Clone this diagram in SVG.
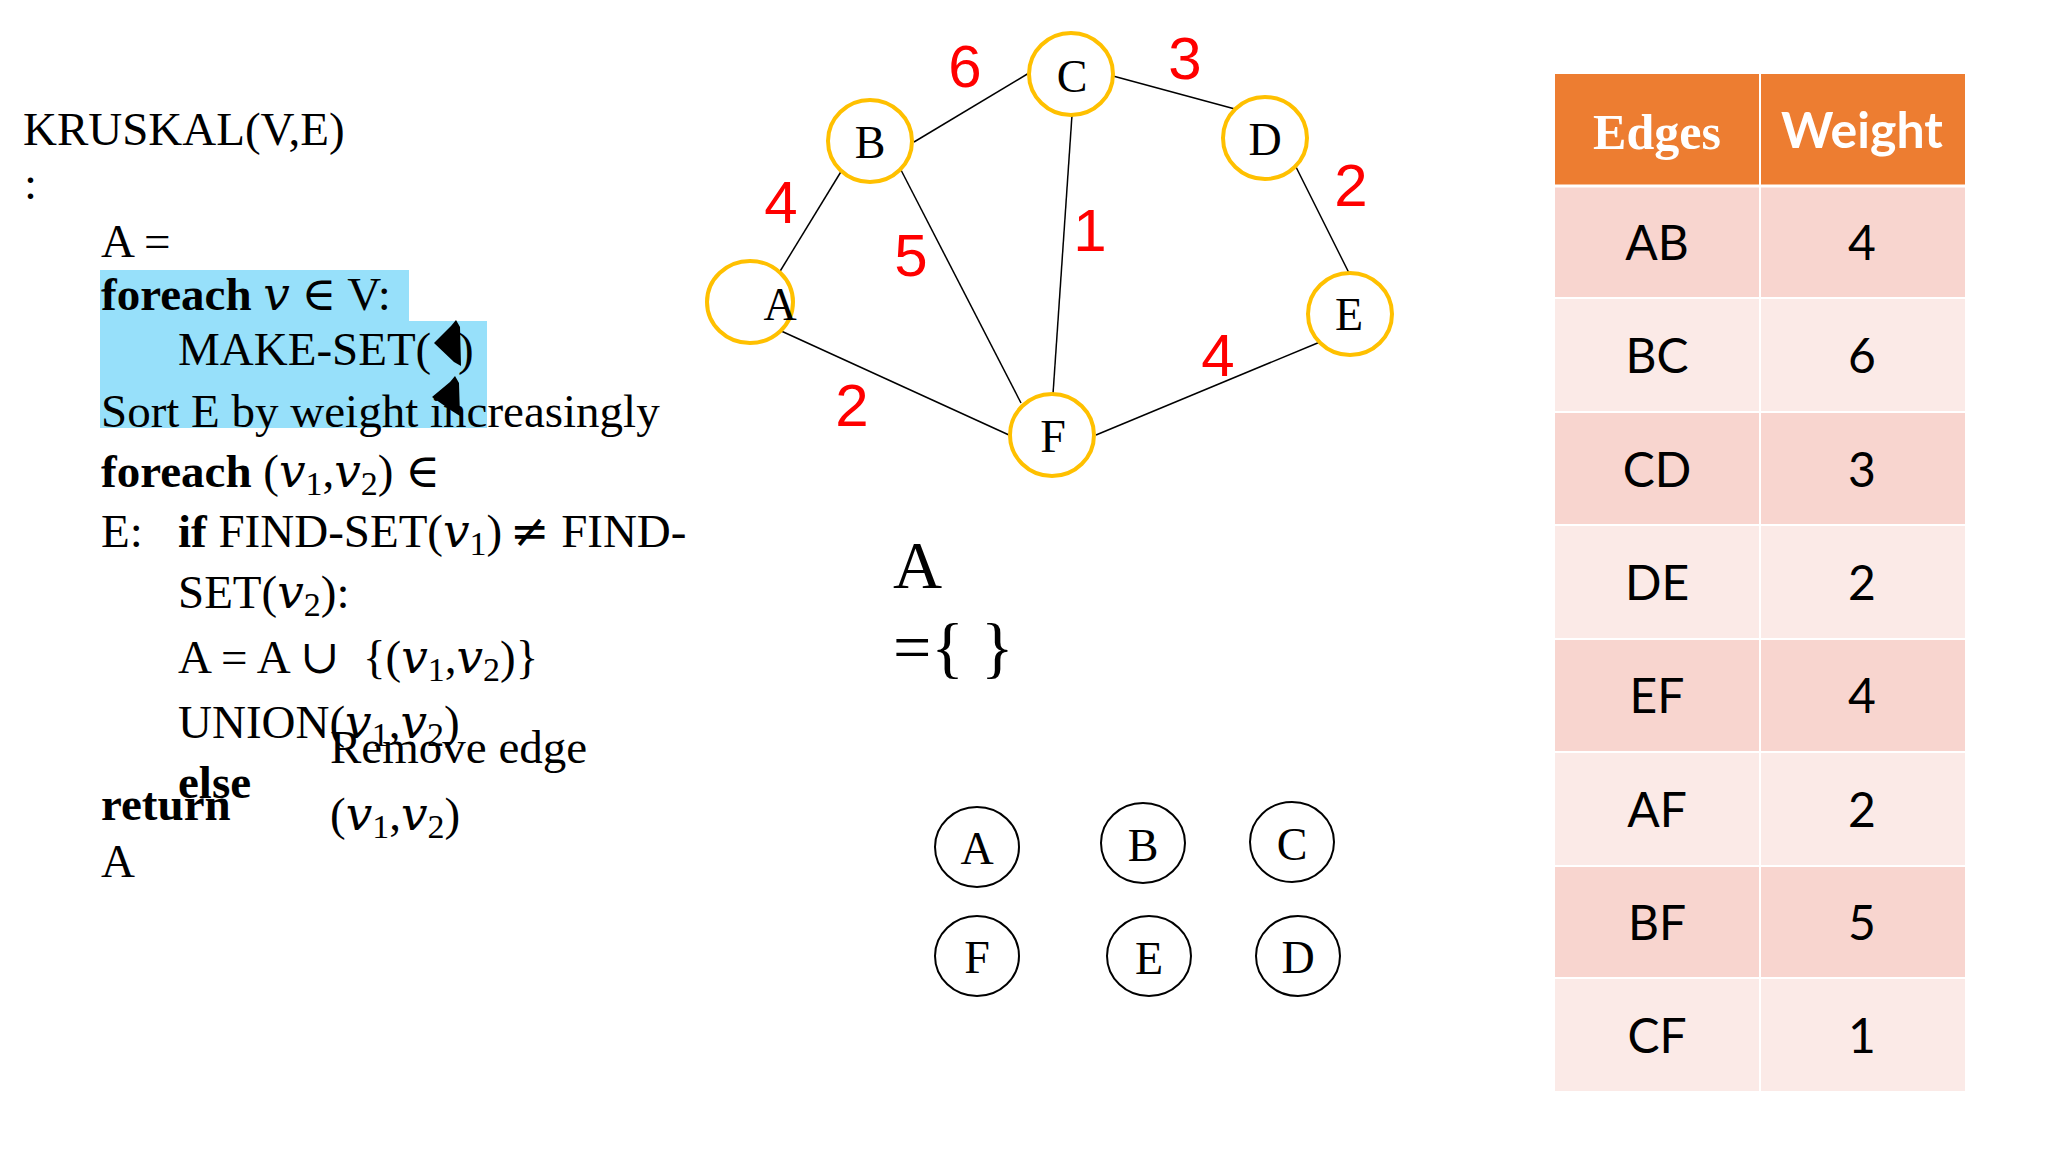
<svg xmlns="http://www.w3.org/2000/svg" width="2048" height="1152" viewBox="0 0 2048 1152">
<style>
.code{font-family:"Liberation Serif","Times New Roman",serif;font-size:47px;fill:#000}
.b{font-weight:bold}
.m{font-family:"DejaVu Serif","Liberation Serif",serif}
.sub{font-size:34px}
.gnode{fill:#fff;stroke:#FFC000;stroke-width:4}
.gtxt{font-family:"Liberation Serif","Times New Roman",serif;font-size:46px;fill:#000;text-anchor:middle}
.w{font-family:"Liberation Sans",Arial,sans-serif;font-size:60px;fill:#FF0000;text-anchor:middle}
.edge{stroke:#000;stroke-width:1.5;fill:none}
.snode{fill:#fff;stroke:#000;stroke-width:2}
.hdr{fill:#ED7D31}
.dark{fill:#F8D5CF}
.light{fill:#FBEAE7}
.cell{font-family:Lato,"Liberation Sans",sans-serif;font-size:48px;fill:#000;text-anchor:middle}
.htxt{font-size:50px;fill:#fff;text-anchor:middle;font-weight:bold}
</style>
<rect width="2048" height="1152" fill="#fff"/>

<!-- pseudo-code -->
<g id="code">
<path d="M100,270 H409 V321 H487 V428 H100 Z" fill="#97E0FA"/>
<text class="code" x="23" y="145">KRUSKAL(V,E)</text>
<text class="code" x="24" y="199">:</text>
<text class="code" x="101" y="257">A =</text>
<text class="code" x="101" y="310"><tspan class="b">foreach</tspan> <tspan class="m">𝑣</tspan> <tspan class="m">∈</tspan> V:</text>
<text class="code" x="178" y="365">MAKE-SET(<tspan x="458">)</tspan></text>
<path d="M434,343 L451,326 L456,320 L460,327 L461,366 L454,362 Z" fill="#000"/>
<path d="M432,397 L450,382 L455,376 L459,383 L460,416 L452,411 Z" fill="#000"/>
<text class="code" x="101" y="427">Sort E by weight increasingly</text>
<text class="code" x="101" y="487"><tspan class="b">foreach</tspan> (<tspan class="m">𝑣</tspan><tspan class="sub" dy="8">1</tspan><tspan dy="-8">,</tspan><tspan class="m">𝑣</tspan><tspan class="sub" dy="8">2</tspan><tspan dy="-8">)</tspan> <tspan class="m">∈</tspan></text>
<text class="code" x="101" y="547">E:<tspan class="b" x="178">if</tspan> FIND-SET(<tspan class="m">𝑣</tspan><tspan class="sub" dy="8">1</tspan><tspan dy="-8">)</tspan><tspan x="510" class="m">≠</tspan> FIND-</text>
<text class="code" x="178" y="608">SET(<tspan class="m">𝑣</tspan><tspan class="sub" dy="8">2</tspan><tspan dy="-8">):</tspan></text>
<text class="code" x="178" y="673">A = A <tspan class="m">∪</tspan><tspan x="363">{(</tspan><tspan class="m">𝑣</tspan><tspan class="sub" dy="8">1</tspan><tspan dy="-8">,</tspan><tspan class="m">𝑣</tspan><tspan class="sub" dy="8">2</tspan><tspan dy="-8">)}</tspan></text>
<text class="code" x="178" y="738">UNION(<tspan class="m">𝑣</tspan><tspan class="sub" dy="8">1</tspan><tspan dy="-8">,</tspan><tspan class="m">𝑣</tspan><tspan class="sub" dy="8">2</tspan><tspan dy="-8">)</tspan></text>
<text class="code" x="330" y="763">Remove edge</text>
<text class="code b" x="178" y="798">else</text>
<text class="code b" x="101" y="820">return</text>
<text class="code" x="330" y="830">(<tspan class="m">𝑣</tspan><tspan class="sub" dy="8">1</tspan><tspan dy="-8">,</tspan><tspan class="m">𝑣</tspan><tspan class="sub" dy="8">2</tspan><tspan dy="-8">)</tspan></text>
<text class="code" x="101" y="877">A</text>
</g>

<!-- connectors -->
<g id="connectors">
<line class="edge" x1="914" y1="142" x2="1029" y2="73"/>
<line class="edge" x1="1113" y1="76" x2="1235" y2="109"/>
<line class="edge" x1="779" y1="273" x2="842" y2="170"/>
<line class="edge" x1="901" y1="170" x2="1021" y2="403"/>
<line class="edge" x1="1072" y1="115" x2="1053" y2="394"/>
<line class="edge" x1="1296" y1="167" x2="1349" y2="273"/>
<line class="edge" x1="779" y1="330" x2="1009" y2="435"/>
<line class="edge" x1="1096" y1="435" x2="1320" y2="342"/>
</g>

<!-- graph nodes -->
<g id="node-C"><ellipse class="gnode" cx="1071" cy="74" rx="42" ry="41"/><text class="gtxt" x="1072" y="92">C</text></g>
<g id="node-B"><ellipse class="gnode" cx="870" cy="141" rx="42" ry="41"/><text class="gtxt" x="870" y="158">B</text></g>
<g id="node-D"><ellipse class="gnode" cx="1265" cy="138" rx="42" ry="41"/><text class="gtxt" x="1265" y="155">D</text></g>
<g id="node-A"><ellipse class="gnode" cx="750" cy="302" rx="43" ry="41"/><text class="gtxt" x="780" y="320">A</text></g>
<g id="node-E"><ellipse class="gnode" cx="1350" cy="314" rx="42" ry="41"/><text class="gtxt" x="1349" y="330">E</text></g>
<g id="node-F"><ellipse class="gnode" cx="1052" cy="435" rx="42" ry="41"/><text class="gtxt" x="1053" y="452">F</text></g>

<!-- weights -->
<g id="weights">
<text class="w" x="965" y="87">6</text>
<text class="w" x="1185" y="79">3</text>
<text class="w" x="781" y="223">4</text>
<text class="w" x="911" y="276">5</text>
<text class="w" x="1090" y="251">1</text>
<text class="w" x="1351" y="206">2</text>
<text class="w" x="852" y="426">2</text>
<text class="w" x="1218" y="376">4</text>
</g>

<!-- A = { } -->
<g id="result">
<text class="code" x="893" y="588" style="font-size:68px">A</text>
<text class="code" x="893" y="670" style="font-size:68px">={ }</text>
</g>

<!-- disjoint sets -->
<g id="set-A"><ellipse class="snode" cx="977" cy="847" rx="42" ry="40"/><text class="gtxt" x="977" y="864">A</text></g>
<g id="set-B"><ellipse class="snode" cx="1143" cy="843" rx="42" ry="40"/><text class="gtxt" x="1143" y="861">B</text></g>
<g id="set-C"><ellipse class="snode" cx="1292" cy="842" rx="42" ry="40"/><text class="gtxt" x="1292" y="860">C</text></g>
<g id="set-F"><ellipse class="snode" cx="977" cy="956" rx="42" ry="40"/><text class="gtxt" x="977" y="973">F</text></g>
<g id="set-E"><ellipse class="snode" cx="1149" cy="956" rx="42" ry="40"/><text class="gtxt" x="1149" y="974">E</text></g>
<g id="set-D"><ellipse class="snode" cx="1298" cy="956" rx="42" ry="40"/><text class="gtxt" x="1298" y="973">D</text></g>

<!-- table -->
<g id="table">
<rect class="hdr" x="1555" y="74" width="410" height="111"/>
<rect class="dark" x="1555" y="185" width="410" height="113"/>
<rect class="light" x="1555" y="298" width="410" height="114"/>
<rect class="dark" x="1555" y="412" width="410" height="113"/>
<rect class="light" x="1555" y="525" width="410" height="114"/>
<rect class="dark" x="1555" y="639" width="410" height="113"/>
<rect class="light" x="1555" y="752" width="410" height="114"/>
<rect class="dark" x="1555" y="866" width="410" height="112"/>
<rect class="light" x="1555" y="978" width="410" height="113"/>
<g stroke="#fff" stroke-width="2">
<line x1="1760" y1="74" x2="1760" y2="1091"/>
<line x1="1555" y1="186" x2="1965" y2="186" stroke-width="3"/>
<line x1="1555" y1="298" x2="1965" y2="298"/>
<line x1="1555" y1="412" x2="1965" y2="412"/>
<line x1="1555" y1="525" x2="1965" y2="525"/>
<line x1="1555" y1="639" x2="1965" y2="639"/>
<line x1="1555" y1="752" x2="1965" y2="752"/>
<line x1="1555" y1="866" x2="1965" y2="866"/>
<line x1="1555" y1="978" x2="1965" y2="978"/>
</g>
<text class="htxt" x="1657" y="149" style="font-family:'Liberation Serif',serif">Edges</text>
<text class="htxt" x="1862" y="148" style="font-family:Lato,'Liberation Sans',sans-serif">Weight</text>
<text class="cell" x="1657" y="260">AB</text><text class="cell" x="1862" y="260">4</text>
<text class="cell" x="1657" y="373">BC</text><text class="cell" x="1862" y="373">6</text>
<text class="cell" x="1657" y="487">CD</text><text class="cell" x="1862" y="487">3</text>
<text class="cell" x="1657" y="600">DE</text><text class="cell" x="1862" y="600">2</text>
<text class="cell" x="1657" y="713">EF</text><text class="cell" x="1862" y="713">4</text>
<text class="cell" x="1657" y="827">AF</text><text class="cell" x="1862" y="827">2</text>
<text class="cell" x="1657" y="940">BF</text><text class="cell" x="1862" y="940">5</text>
<text class="cell" x="1657" y="1053">CF</text><text class="cell" x="1862" y="1053">1</text>
</g>
</svg>
